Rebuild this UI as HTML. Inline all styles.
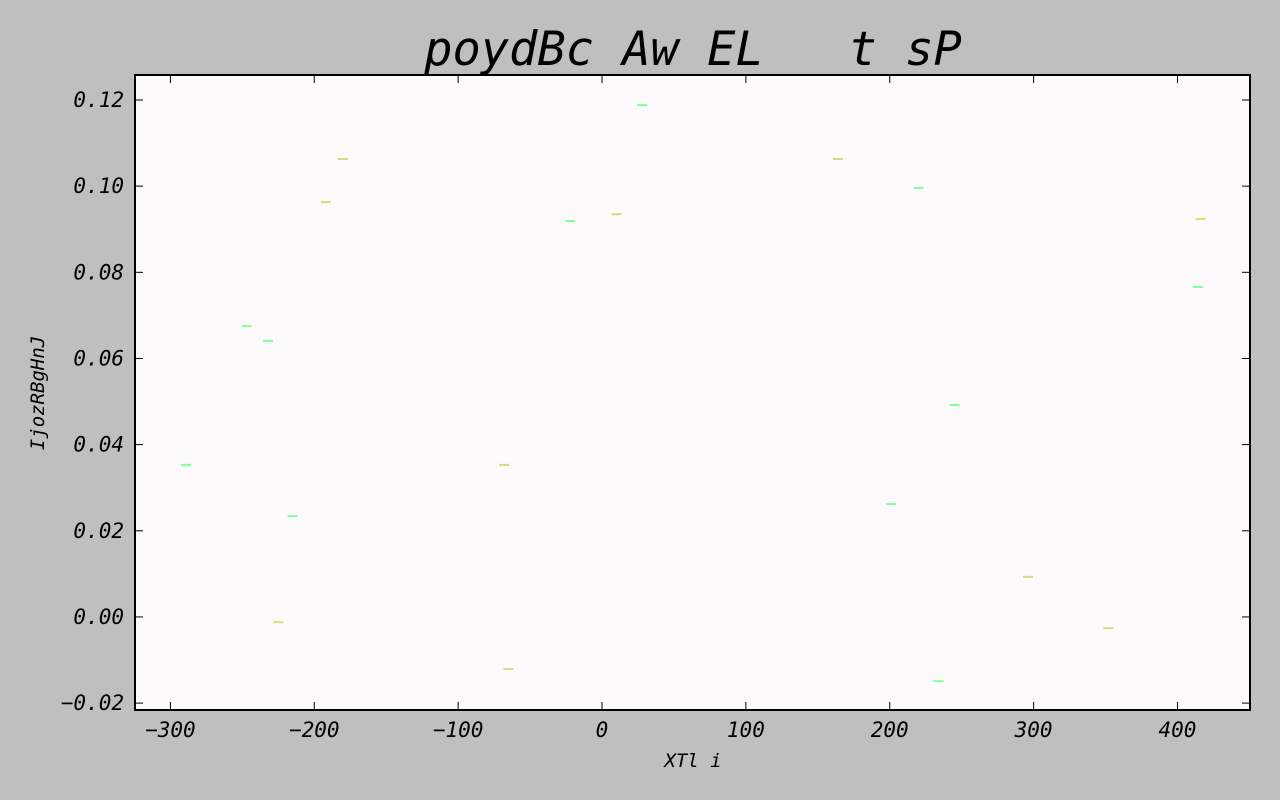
<!DOCTYPE html>
<html><head><meta charset="utf-8"><style>
html,body{margin:0;background:#bfbfbf;width:1280px;height:800px;overflow:hidden}
svg{display:block}
text{font-family:"DejaVu Sans Mono","Liberation Mono",monospace;font-style:italic;fill:#000}
</style></head><body>
<svg id="chart" width="1280" height="800" xmlns="http://www.w3.org/2000/svg">
<text x="693" y="65" font-size="47" text-anchor="middle" xml:space="preserve">poydBc Aw EL   t sP</text>
<rect x="135" y="75" width="1115" height="635" fill="#fcfafb" stroke="#000" stroke-width="2"/>
<g id="ticks"></g>
<g id="marks"></g>
<text x="693" y="767" font-size="19" text-anchor="middle">XTl i</text>
<text transform="translate(44,393) rotate(-90)" font-size="19" text-anchor="middle">IjozRBgHnJ</text>
</svg>
<script>
const greenX=[-289,-247,-232,-215,-22,28,220,201,245,234,414];
const greenY=[0.0353,0.0675,0.0641,0.0234,0.0919,0.1188,0.0996,0.0262,0.0492,-0.0149,0.0766];
const yellowX=[-180,-192,-225,-68,-65,10,164,296,352,416];
const yellowY=[0.1063,0.0963,-0.0012,0.0353,-0.0121,0.0935,0.1063,0.0093,-0.0026,0.0924];
const xTicks=[-300,-200,-100,0,100,200,300,400];
const yTicks=[-0.02,0,0.02,0.04,0.06,0.08,0.10,0.12];
const yTickLabels=["\u22120.02","0.00","0.02","0.04","0.06","0.08","0.10","0.12"];
const xTickLabels=["\u2212300","\u2212200","\u2212100","0","100","200","300","400"];
const L=135,R=1250,T=75,B=710,xMin=-324.6,xMax=450.4,yMin=-0.0216,yMax=0.1258;
const sx=v=>L+(v-xMin)/(xMax-xMin)*(R-L);
const sy=v=>B-(v-yMin)/(yMax-yMin)*(B-T);
const NS="http://www.w3.org/2000/svg";
const tk=document.getElementById('ticks'),mk=document.getElementById('marks');
function ln(p,x1,y1,x2,y2,c,w){const e=document.createElementNS(NS,'line');e.setAttribute('x1',x1);e.setAttribute('y1',y1);e.setAttribute('x2',x2);e.setAttribute('y2',y2);e.setAttribute('stroke',c);e.setAttribute('stroke-width',w);p.appendChild(e);return e;}
function tx(p,x,y,s,a){const e=document.createElementNS(NS,'text');e.setAttribute('x',x);e.setAttribute('y',y);e.setAttribute('font-size',21);e.setAttribute('text-anchor',a);e.textContent=s;p.appendChild(e);return e;}
xTicks.forEach((v,i)=>{const x=sx(v);
const a=ln(tk,x,B,x,B-8,'#000',1);
const b=ln(tk,x,T,x,T+8,'#000',1);
const t=tx(tk,x,737,xTickLabels[i],'middle');});
yTicks.forEach((v,i)=>{const y=sy(v);
const a=ln(tk,L,y,L+8,y,'#000',1);
const b=ln(tk,R,y,R-8,y,'#000',1);
const t=tx(tk,124,y+7,yTickLabels[i],'end');});
function series(xs,ys,c,name){xs.forEach((v,i)=>{const x=sx(v),y=sy(ys[i]);
const e=ln(mk,x-5,y,x+5,y,c,2);});}
series(greenX,greenY,'#80ff9a','green-point');
series(yellowX,yellowY,'#d4dd77','yellow-point');
</script>
</body></html>
